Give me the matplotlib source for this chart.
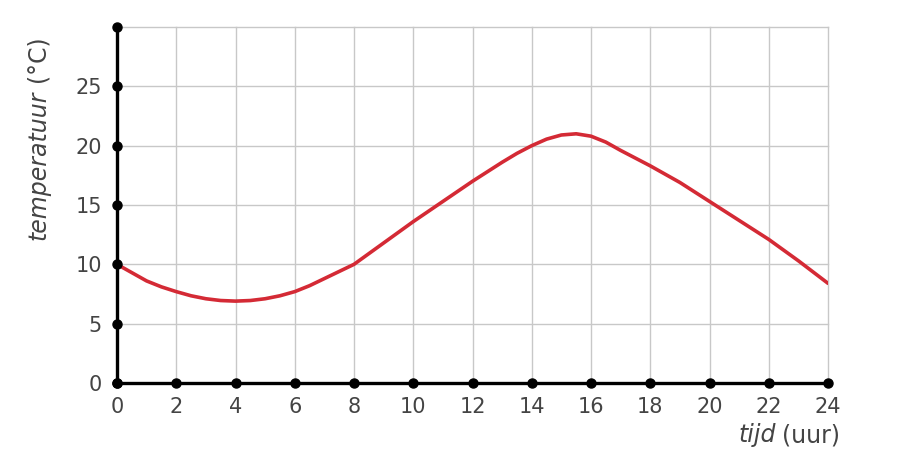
import matplotlib.pyplot as plt
import numpy as np

# data (every half hour)
tijd = [0, 0.5, 1, 1.5, 2, 2.5, 3, 3.5, 4, 4.5, 5, 5.5, 6, 6.5, 7, 7.5, 8,
        8.5, 9, 9.5, 10, 10.5, 11, 11.5, 12, 12.5, 13, 13.5, 14, 14.5, 15,
        15.5, 16, 16.5, 17, 17.5, 18, 18.5, 19, 19.5, 20, 20.5, 21, 21.5,
        22, 22.5, 23, 23.5, 24]
temperatuur = [10, 9.3, 8.6, 8.1, 7.7, 7.35, 7.1, 6.95, 6.9, 6.95, 7.1, 7.35,
               7.7, 8.2, 8.8, 9.4, 10, 10.9, 11.8, 12.7, 13.6, 14.45, 15.3,
               16.15, 17.0, 17.8, 18.6, 19.35, 20.0, 20.55, 20.9, 21.0, 20.8,
               20.3, 19.6, 18.95, 18.3, 17.6, 16.9, 16.1, 15.3, 14.5, 13.7,
               12.9, 12.1, 11.2, 10.3, 9.35, 8.4]

x_ticks = list(range(0, 25, 2))
y_ticks = [0, 5, 10, 15, 20, 25]
y_top = 30

label_color = '#444444'
curve_color = '#d42a35'

fig = plt.figure(figsize=(9.06, 4.75), dpi=100)
ax = fig.add_axes([117 / 906, 1 - 383 / 475, (828 - 117) / 906, (383 - 27) / 475])

ax.set_xlim(0, 24)
ax.set_ylim(0, y_top)

# grid
for x in x_ticks[1:]:
    ax.axvline(x, color='#c8c8c8', lw=1.0, zorder=1, clip_on=False)
for y in y_ticks[1:] + [y_top]:
    ax.axhline(y, color='#c8c8c8', lw=1.0, zorder=1, clip_on=False)

# curve
ax.plot(tijd, temperatuur, color=curve_color, lw=2.6, zorder=3,
        solid_capstyle='round', solid_joinstyle='round')

# axes lines
for s in ['top', 'right']:
    ax.spines[s].set_visible(False)
for s in ['left', 'bottom']:
    ax.spines[s].set_linewidth(2.4)
    ax.spines[s].set_color('black')
    ax.spines[s].set_zorder(4)

# dots on the axes
ax.plot(x_ticks, np.zeros(len(x_ticks)), 'o', color='black', ms=6.5,
        clip_on=False, zorder=5)
ax.plot(np.zeros(len(y_ticks) + 1), y_ticks + [y_top], 'o', color='black',
        ms=6.5, clip_on=False, zorder=5)

ax.set_xticks(x_ticks)
ax.set_xticklabels([str(x) for x in x_ticks])
ax.set_yticks(y_ticks)
ax.set_yticklabels([str(y) for y in y_ticks])
ax.tick_params(length=0, labelsize=15, labelcolor=label_color)
ax.tick_params(axis='x', pad=10)
ax.tick_params(axis='y', pad=11)

# axis labels with italic part
fig.canvas.draw()
r = fig.canvas.get_renderer()

t1 = fig.text(38 / 906, 1 - 240 / 475, 'temperatuur', rotation=90,
              fontsize=17, style='italic', color=label_color,
              ha='center', va='bottom')
bb = t1.get_window_extent(r)
fig.text(38 / 906, (bb.y1 + 9) / 475, '(°C)', rotation=90, fontsize=17,
         color=label_color, ha='center', va='bottom')

t2 = fig.text(738 / 906, 1 - 442 / 475, 'tijd', fontsize=17, style='italic',
              color=label_color, ha='left', va='baseline')
bb2 = t2.get_window_extent(r)
fig.text((bb2.x1 + 7) / 906, 1 - 442 / 475, '(uur)', fontsize=17,
         color=label_color, ha='left', va='baseline')

fig.savefig('out.png', dpi=100)
